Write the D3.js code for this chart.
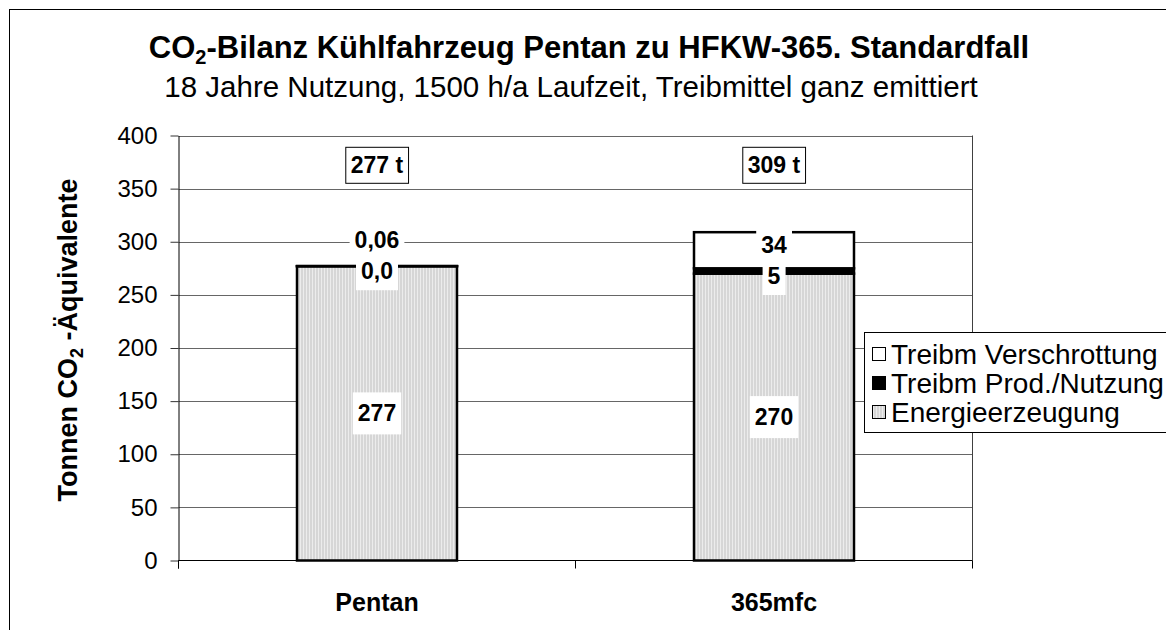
<!DOCTYPE html>
<html><head><meta charset="utf-8">
<script src="https://cdn.jsdelivr.net/npm/d3@7"></script>
<style>body{margin:0;background:#fff} svg{display:block} text{font-family:"Liberation Sans",Arial,sans-serif;fill:#000}</style>
</head><body><svg id="c" width="1166" height="630"></svg>
<script>
// ---- data ----
const categories = ["Pentan", "365mfc"];
const energie = [277, 270];
const prodNutzung = [0.02, 5];
const verschrottung = [0.06, 34];
const energieLabels = ["277", "270"];
const prodLabels = ["0,0", "5"];
const verschrottLabels = ["0,06", "34"];
const yTicks = [0, 50, 100, 150, 200, 250, 300, 350, 400];
const legendNames = ["Treibm Verschrottung", "Treibm Prod./Nutzung", "Energieerzeugung"];

const svg = d3.select("#c");
const defs = svg.append("defs");
const pat = defs.append("pattern").attr("id", "stripes").attr("patternUnits", "userSpaceOnUse")
  .attr("width", 3).attr("height", 10);
pat.append("rect").attr("width", 3).attr("height", 10).attr("fill", "#d6d6d6");
pat.append("rect").attr("width", 1).attr("height", 10).attr("fill", "#ececec");

svg.append("rect").attr("width", 1166).attr("height", 630).attr("fill", "#fff");
// outer frame
svg.append("rect").attr("x", 9.5).attr("y", 9.5).attr("width", 1300).attr("height", 800)
  .attr("fill", "none").attr("stroke", "#000");

const L = 178.5, R = 972.5, B = 560.5, T = 135.5;
const y = d3.scaleLinear().domain([0, 400]).range([B, T]);
const x = d3.scaleBand().domain(categories).range([L, R]).paddingInner(0.597).paddingOuter(0.2985);

// title
const title = svg.append("text").attr("x", 589).attr("y", 58).attr("text-anchor", "middle")
  .attr("font-size", 31).attr("font-weight", "bold");
title.append("tspan").text("CO");
title.append("tspan").text("2").attr("font-size", 20).attr("dy", 6);
title.append("tspan").text("-Bilanz Kühlfahrzeug Pentan zu HFKW-365. Standardfall").attr("dy", -6);
svg.append("text").attr("x", 571).attr("y", 97).attr("text-anchor", "middle")
  .attr("font-size", 29.5).text("18 Jahre Nutzung, 1500 h/a Laufzeit, Treibmittel ganz emittiert");

// gridlines
svg.append("g").selectAll("line").data(yTicks.filter(d => d > 0)).join("line")
  .attr("x1", L).attr("x2", R).attr("y1", d => Math.round(y(d)) + 0.5).attr("y2", d => Math.round(y(d)) + 0.5)
  .attr("stroke", "#666").attr("stroke-width", 1);
// right plot border
svg.append("line").attr("x1", R).attr("x2", R).attr("y1", T).attr("y2", B).attr("stroke", "#404040");

// y axis
const yAxis = d3.axisLeft(y).tickValues(yTicks).tickSize(8).tickSizeOuter(0).tickPadding(13);
const gy = svg.append("g").attr("transform", `translate(${L},0)`).call(yAxis);
gy.selectAll("text").attr("font-size", 24).attr("font-family", '"Liberation Sans",Arial,sans-serif');
gy.selectAll("line").attr("stroke", "#333");
gy.select(".domain").attr("stroke", "#000");
svg.append("line").attr("x1", L).attr("x2", L).attr("y1", B).attr("y2", B + 8).attr("stroke", "#000");

// x axis
svg.append("line").attr("x1", L).attr("x2", R).attr("y1", B).attr("y2", B).attr("stroke", "#000");
const step = x.step();
svg.append("g").selectAll("line").data(d3.range(categories.length + 1)).join("line")
  .attr("x1", i => L + i * step).attr("x2", i => L + i * step)
  .attr("y1", B).attr("y2", B + 8).attr("stroke", "#000");
svg.append("g").selectAll("text").data(categories).join("text")
  .attr("x", d => x(d) + x.bandwidth() / 2).attr("y", 611).attr("text-anchor", "middle")
  .attr("font-size", 25).attr("font-weight", "bold").text(d => d);

// y axis title
const yt = svg.append("text").attr("transform", `translate(77,340) rotate(-90)`)
  .attr("text-anchor", "middle").attr("font-size", 27).attr("font-weight", "bold");
yt.append("tspan").text("Tonnen CO");
yt.append("tspan").text("2").attr("font-size", 18).attr("dy", 6);
yt.append("tspan").text(" -Äquivalente").attr("dy", -6);

// stacked bars
const table = categories.map((c, i) => ({cat: c, energie: energie[i], prod: prodNutzung[i], scrap: verschrottung[i]}));
const keys = ["energie", "prod", "scrap"];
const fills = {energie: "url(#stripes)", prod: "#000", scrap: "#fff"};
const stacked = d3.stack().keys(keys)(table);
stacked.forEach(s => {
  svg.append("g").selectAll("rect").data(s).join("rect")
    .attr("x", d => x(d.data.cat)).attr("width", x.bandwidth())
    .attr("y", d => y(d[1])).attr("height", d => Math.max(0, y(d[0]) - y(d[1])))
    .attr("fill", fills[s.key]).attr("stroke", "#000").attr("stroke-width", 2.5);
});

// labels
function boxLabel(cx, cy, txt, opts = {}) {
  const g = svg.append("g");
  const r = g.append("rect").attr("fill", "#fff");
  const t = g.append("text").attr("x", cx).attr("y", cy).attr("dy", "0.35em").attr("text-anchor", "middle")
    .attr("font-size", opts.size || 23).attr("font-weight", "bold").text(txt);
  const bb = t.node().getBBox();
  const px = opts.px || 5, py = opts.py || 4;
  r.attr("x", bb.x - px).attr("y", bb.y - py).attr("width", bb.width + 2 * px).attr("height", bb.height + 2 * py);
  if (opts.border) r.attr("stroke", "#000").attr("stroke-width", 1);
}
categories.forEach((c, i) => {
  const cx = x(c) + x.bandwidth() / 2;
  const e = stacked[0][i], p = stacked[1][i], s = stacked[2][i];
  const ey = (y(e[0]) + y(e[1])) / 2;
  const py = (y(p[0]) + y(p[1])) / 2 + 5;
  const sy = Math.min((y(s[0]) + y(s[1])) / 2 - 5, py - 31);
  boxLabel(cx, ey, energieLabels[i], {py: 8});
  boxLabel(cx, py, prodLabels[i], {py: 6});
  boxLabel(cx, sy, verschrottLabels[i], {py: 2});
  const total = energie[i] + prodNutzung[i] + verschrottung[i];
  boxLabel(cx, y(372), d3.format(".0f")(total) + " t", {border: true, px: 5, py: 5});
});

// legend
const lg = svg.append("g");
lg.append("rect").attr("x", 864.5).attr("y", 332.5).attr("width", 400).attr("height", 100)
  .attr("fill", "#fff").attr("stroke", "#000");
const legFills = ["#fff", "#000", "url(#stripes)"];
legendNames.forEach((n, i) => {
  const cy = 354 + i * 29;
  lg.append("rect").attr("x", 872.5).attr("y", cy - 6.5).attr("width", 13).attr("height", 13)
    .attr("fill", legFills[i]).attr("stroke", "#000");
  lg.append("text").attr("x", 891).attr("y", cy).attr("dy", "0.35em").attr("font-size", 28).text(n);
});
</script></body></html>
